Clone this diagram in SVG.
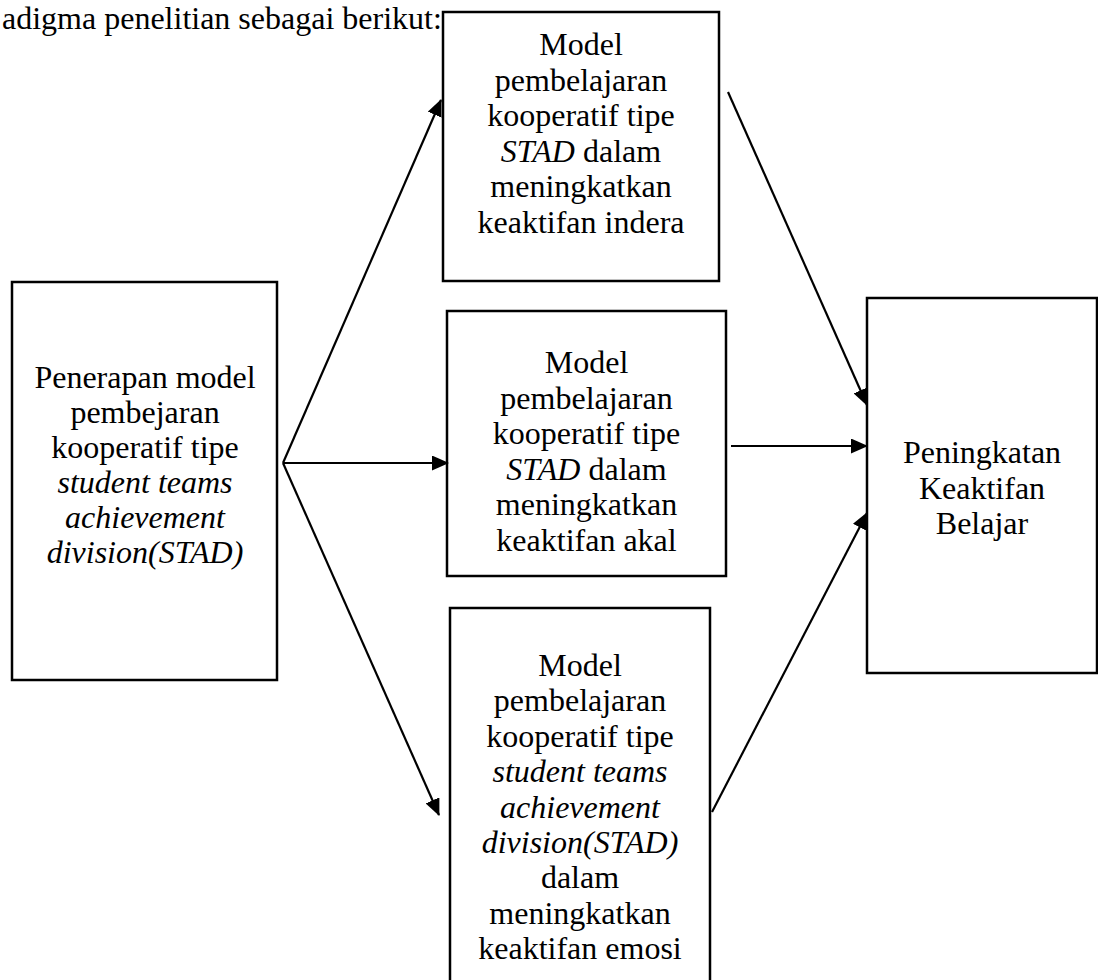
<svg xmlns="http://www.w3.org/2000/svg" width="1098" height="980" viewBox="0 0 1098 980">
<style>
  .box { fill: #fff; stroke: #000; stroke-width: 2.5; }
  .t { font-family: "Liberation Serif", "Times New Roman", serif; font-size: 32px; fill: #000; text-anchor: middle; }
  .h { font-family: "Liberation Serif", "Times New Roman", serif; font-size: 32px; fill: #000; }
  .i { font-style: italic; }
  .c { stroke: #000; stroke-width: 2.2; fill: none; marker-end: url(#ah); }
</style>
<defs>
  <marker id="ah" markerUnits="userSpaceOnUse" markerWidth="17" markerHeight="15" refX="16" refY="7.5" orient="auto">
    <path d="M0,0 L17,7.5 L0,15 Z" fill="#000"/>
  </marker>
</defs>
<rect width="1098" height="980" fill="#fff"/>
<text class="h" x="2" y="29">adigma penelitian sebagai berikut:</text>

<g id="node-left">
  <rect class="box" x="12" y="282" width="265" height="398"/>
  <text class="t" x="145" y="388">Penerapan model</text>
  <text class="t" x="145" y="423">pembejaran</text>
  <text class="t" x="145" y="458">kooperatif tipe</text>
  <text class="t i" x="145" y="493">student teams</text>
  <text class="t i" x="145" y="528">achievement</text>
  <text class="t i" x="145" y="563">division(STAD)</text>
</g>

<g id="node-top">
  <rect class="box" x="443" y="12" width="276" height="269"/>
  <text class="t" x="581" y="55">Model</text>
  <text class="t" x="581" y="90.5">pembelajaran</text>
  <text class="t" x="581" y="126">kooperatif tipe</text>
  <text class="t" x="581" y="161.5"><tspan class="i">STAD</tspan> dalam</text>
  <text class="t" x="581" y="197">meningkatkan</text>
  <text class="t" x="581" y="232.5">keaktifan indera</text>
</g>

<g id="node-mid">
  <rect class="box" x="447" y="311" width="279" height="265"/>
  <text class="t" x="586.5" y="373">Model</text>
  <text class="t" x="586.5" y="408.5">pembelajaran</text>
  <text class="t" x="586.5" y="444">kooperatif tipe</text>
  <text class="t" x="586.5" y="479.5"><tspan class="i">STAD</tspan> dalam</text>
  <text class="t" x="586.5" y="515">meningkatkan</text>
  <text class="t" x="586.5" y="550.5">keaktifan akal</text>
</g>

<g id="node-bottom">
  <rect class="box" x="450" y="608" width="260" height="400"/>
  <text class="t" x="580" y="676">Model</text>
  <text class="t" x="580" y="711.4">pembelajaran</text>
  <text class="t" x="580" y="746.8">kooperatif tipe</text>
  <text class="t i" x="580" y="782.2">student teams</text>
  <text class="t i" x="580" y="817.6">achievement</text>
  <text class="t i" x="580" y="853">division(STAD)</text>
  <text class="t" x="580" y="888.4">dalam</text>
  <text class="t" x="580" y="923.8">meningkatkan</text>
  <text class="t" x="580" y="959.2">keaktifan emosi</text>
</g>

<g id="node-right">
  <rect class="box" x="867" y="298" width="230" height="375"/>
  <text class="t" x="982" y="463">Peningkatan</text>
  <text class="t" x="982" y="498.5">Keaktifan</text>
  <text class="t" x="982" y="534">Belajar</text>
</g>

<g id="connectors">
  <line class="c" x1="283" y1="463" x2="441" y2="100"/>
  <line class="c" x1="283" y1="463" x2="448" y2="463"/>
  <line class="c" x1="283" y1="463" x2="439" y2="815"/>
  <line class="c" x1="728" y1="92" x2="867" y2="405"/>
  <line class="c" x1="731" y1="446" x2="867" y2="446"/>
  <line class="c" x1="712" y1="812" x2="867" y2="513"/>
</g>
</svg>
